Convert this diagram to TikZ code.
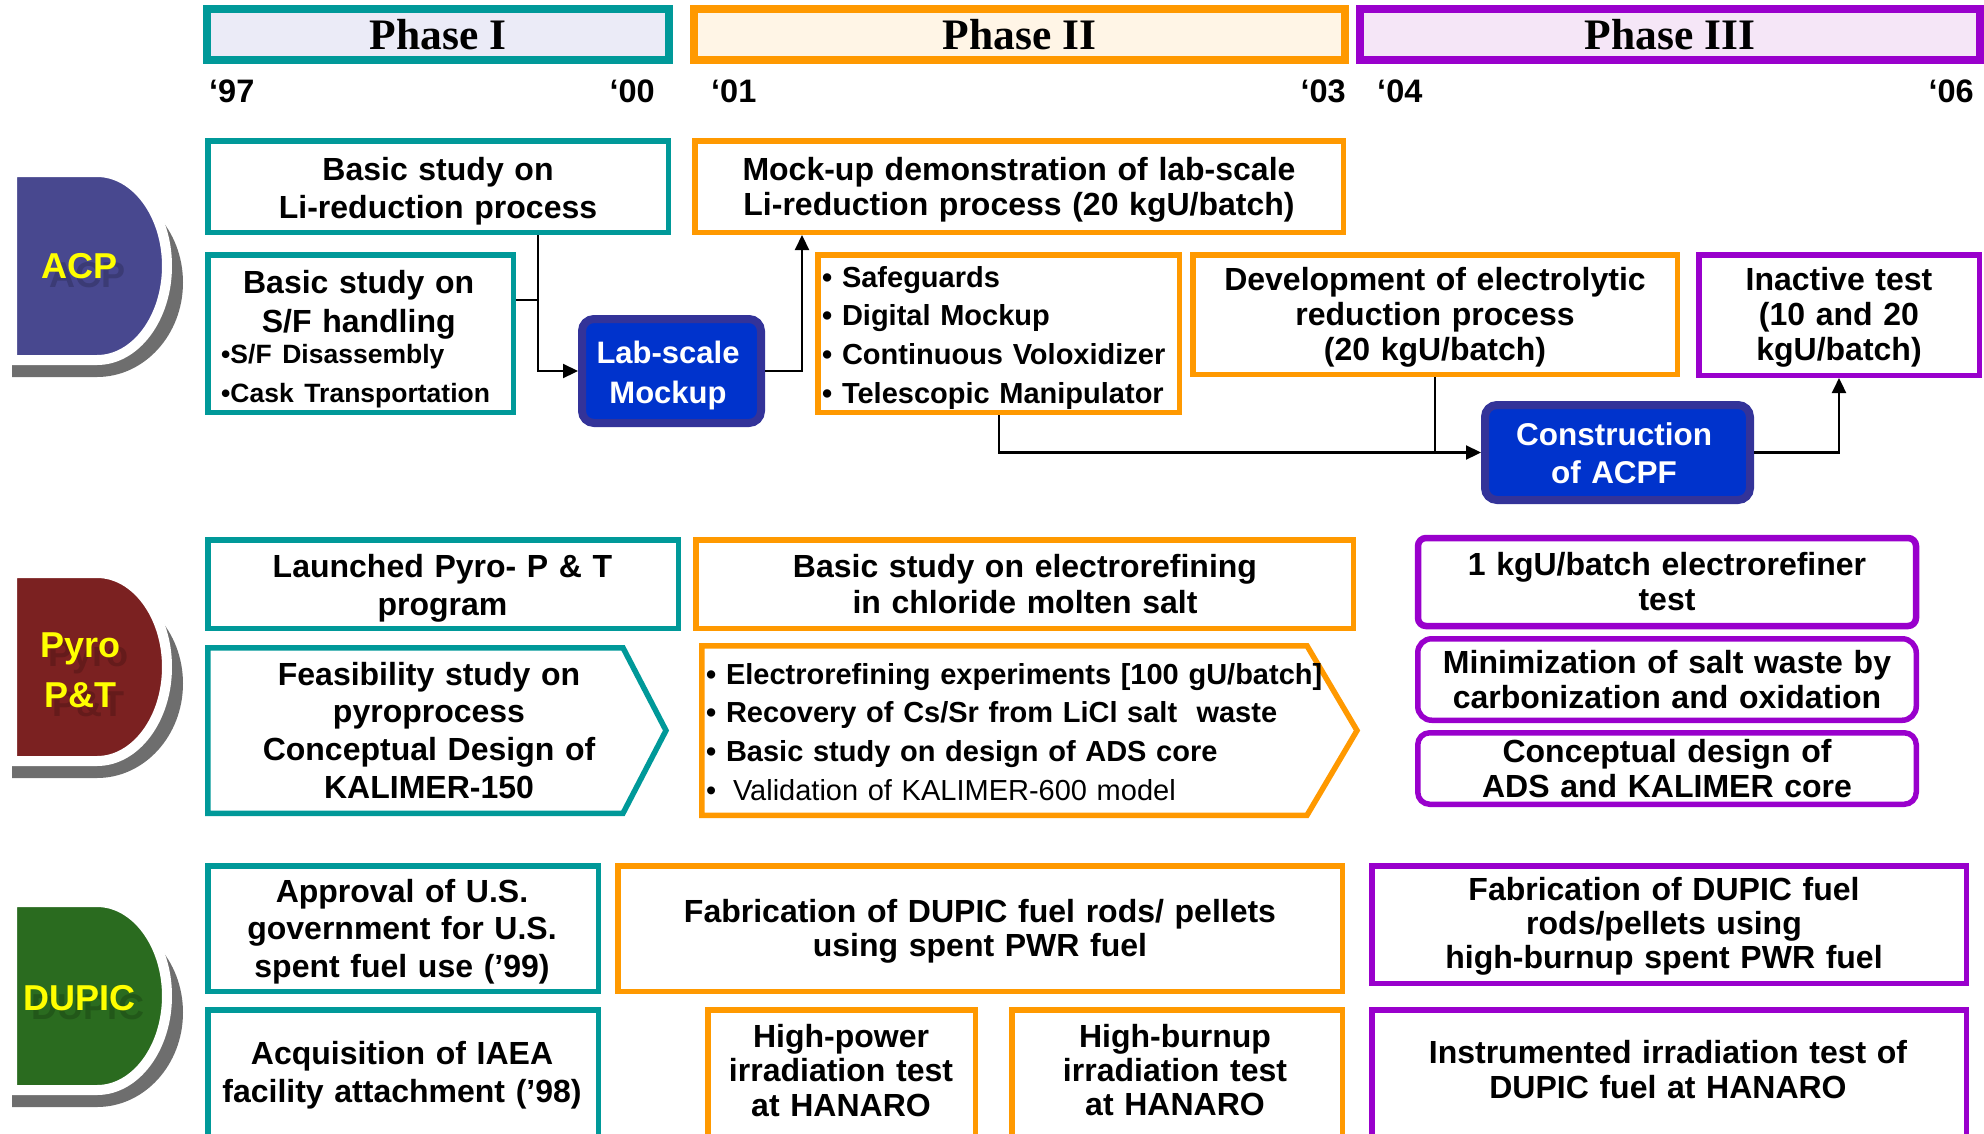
\documentclass[tikz,border=0pt]{standalone}
\usepackage{fontspec}
\setmainfont{Liberation Sans}
\newfontfamily\phasefont{Liberation Serif}
\usetikzlibrary{arrows.meta}
\newcommand\fsz[2]{\fontsize{#1pt}{#2pt}\selectfont}

\definecolor{tealc}{HTML}{009999}
\definecolor{orangec}{HTML}{FF9900}
\definecolor{purplec}{HTML}{9900CC}
\definecolor{phIfill}{HTML}{EBEBF7}
\definecolor{phIIfill}{HTML}{FFF5E6}
\definecolor{phIIIfill}{HTML}{F5E6F7}
\definecolor{acpfill}{HTML}{48488F}
\definecolor{pyrofill}{HTML}{7B2121}
\definecolor{dupicfill}{HTML}{2A6B1F}
\definecolor{shadowgray}{HTML}{6E6E6E}
\definecolor{bluefill}{HTML}{0033CC}
\definecolor{blueedge}{HTML}{333399}
\definecolor{yellowc}{HTML}{FFFF00}

% rounded program tab with its grey drop shadow; #1 = top edge, #2 = fill
\newcommand\programtab[2]{%
  \fill[shadowgray] (12,#1+16) -- (97,#1+16)
    arc[start angle=-90,end angle=90,x radius=86,y radius=94.5] -- (12,#1+205) -- cycle;
  \filldraw[fill=#2, draw=white, line width=10pt] (12,#1) -- (97,#1)
    arc[start angle=-90,end angle=90,x radius=70,y radius=94] -- (12,#1+188) -- cycle;
}

\begin{document}
\begin{tikzpicture}[x=1pt,y=-1pt,
  phasebox/.style={draw=#1, line width=8pt, inner sep=0pt},
  frame/.style={draw=#1, line width=5.5pt, fill=white, inner sep=0pt},
  roundframe/.style={frame=#1, rounded corners=9pt},
  bluebox/.style={draw=blueedge, fill=bluefill, line width=8pt, rounded corners=12pt, inner sep=0pt},
  lbl/.style={anchor=base, inner sep=0pt, align=center, text width=#1pt},
  bullets/.style={anchor=base west, inner sep=0pt, align=left, text width=#1pt},
  yearlbl/.style={inner sep=0pt, font=\bfseries\fsz{32.5}{38}},
  phaselbl/.style={anchor=base, inner sep=0pt, font=\phasefont\bfseries\fsz{43.5}{48}},
  tablbl/.style={lbl=150, font=\bfseries\fsz{36}{50}, text=yellowc},
  link/.style={draw=black, line width=2.2pt},
  linkarrow/.style={link, -{Triangle[length=15pt,width=14pt]}}
]
\useasboundingbox (0,0) rectangle (1984,1133);
\clip (0,0) rectangle (1984,1133);

% ---------------- phase headers ----------------
\node[phasebox=tealc, fill=phIfill, minimum width=462pt, minimum height=51pt] (ph1) at (438,34.5) {};
\node[phasebox=orangec, fill=phIIfill, minimum width=651pt, minimum height=51pt] (ph2) at (1019.5,34.5) {};
\node[phasebox=purplec, fill=phIIIfill, minimum width=620pt, minimum height=51pt] (ph3) at (1670,34.5) {};
\node[phaselbl] (ph1t) at (438,49) {Phase I};
\node[phaselbl] (ph2t) at (1019.5,49) {Phase II};
\node[phaselbl] (ph3t) at (1670,49) {Phase III};

\node[yearlbl, anchor=base west] (y97) at (209,102) {‘97};
\node[yearlbl, anchor=base east] (y00) at (655,102) {‘00};
\node[yearlbl, anchor=base west] (y01) at (711,102) {‘01};
\node[yearlbl, anchor=base east] (y03) at (1346,102) {‘03};
\node[yearlbl, anchor=base west] (y04) at (1377,102) {‘04};
\node[yearlbl, anchor=base east] (y06) at (1974,102) {‘06};

% ---------------- program tabs ----------------
\programtab{172}{acpfill}
\programtab{573}{pyrofill}
\programtab{902}{dupicfill}
\node[tablbl, text=acpfill!82!black] (acpS) at (88,287) {ACP};
\node[tablbl] (acpL) at (80,278) {ACP};
\node[tablbl, text=pyrofill!82!black] (pyroS) at (88.5,666) {Pyro\\P\&T};
\node[tablbl] (pyroL) at (80.5,657) {Pyro\\P\&T};
\node[tablbl, text=dupicfill!82!black] (dupicS) at (88,1019) {DUPIC};
\node[tablbl] (dupicL) at (80,1010) {DUPIC};

% ---------------- ACP row ----------------
\node[frame=tealc, minimum width=460.5pt, minimum height=91.5pt] (a1) at (438,186.5) {};
\node[frame=tealc, minimum width=305.5pt, minimum height=157.5pt] (a2) at (360.5,333.5) {};
\node[bluebox, minimum width=179pt, minimum height=104pt] (lab) at (671.5,371) {};
\node[frame=orangec, minimum width=648.5pt, minimum height=91.5pt] (demo) at (1019,186.5) {};
\node[frame=orangec, minimum width=361.5pt, minimum height=157.5pt] (safe) at (998.5,333.5) {};
\node[frame=orangec, minimum width=484.5pt, minimum height=119.5pt] (dev) at (1435,314.5) {};
\node[frame=purplec, minimum width=280.5pt, minimum height=120.5pt] (inact) at (1839,315) {};
\node[bluebox, minimum width=265pt, minimum height=95pt] (acpf) at (1617.5,452.5) {};

\node[lbl=450, font=\bfseries\fsz{32}{38}] (a1t) at (438,180) {Basic study on\\Li-reduction process};
\node[bullets=275, anchor=base west, font=\bfseries\fsz{32}{39}] (a2t) at (221,293)
  {{\centering Basic study on\\S/F handling\par}\fsz{26.5}{31}•S/F Disassembly\\•Cask Transportation};
\node[lbl=175, text=white, font=\bfseries\fsz{31}{40}] (labt) at (668,363) {Lab-scale\\Mockup};
\node[lbl=640, font=\bfseries\fsz{32}{35}] (demot) at (1019,180) {Mock-up demonstration of lab-scale\\Li-reduction process (20 kgU/batch)};
\node[bullets=355, font=\bfseries\fsz{29}{38.7}] (safet) at (822,287)
  {• Safeguards\\• Digital Mockup\\• Continuous Voloxidizer\\• Telescopic Manipulator};
\node[lbl=475, font=\bfseries\fsz{32}{35}] (devt) at (1435,290) {Development of electrolytic\\reduction process\\(20 kgU/batch)};
\node[lbl=270, font=\bfseries\fsz{32}{35}] (inactt) at (1839,290) {Inactive test\\(10 and 20\\kgU/batch)};
\node[lbl=260, text=white, font=\bfseries\fsz{31.5}{38}] (acpft) at (1614,445) {Construction\\of ACPF};

\coordinate (j1) at (538,300);
\coordinate (j2) at (802,0);
\coordinate (j3) at (999,0);
\draw[link] (a2.east |- j1) -- (j1);
\draw[linkarrow] (a1.south -| j1) |- (lab.west);
\draw[linkarrow] (lab.east) -| (demo.south -| j2);
\draw[linkarrow] (safe.south -| j3) |- (acpf.west);
\draw[link] (dev.south) -- (dev.south |- acpf.west);
\draw[linkarrow] (acpf.east) -| (inact.south);

% ---------------- Pyro P&T row ----------------
\node[frame=tealc, minimum width=470.5pt, minimum height=88.5pt] (p1) at (443,584) {};
\draw[tealc, line width=5.5pt, fill=white]
  (207.75,647.75) -- (623,647.75) -- (666,730.5) -- (623,813.25) -- (207.75,813.25) -- cycle;
\node[frame=orangec, minimum width=657.5pt, minimum height=88.5pt] (p2) at (1024.5,584) {};
\draw[orangec, line width=5.5pt, fill=white]
  (701.75,645.75) -- (1307,645.75) -- (1357,730.5) -- (1307,815.25) -- (701.75,815.25) -- cycle;
\node[roundframe=purplec, line width=6.5pt, rounded corners=8pt, minimum width=498pt, minimum height=88pt] (p3) at (1667,582) {};
\node[roundframe=purplec, rounded corners=14pt, minimum width=498.5pt, minimum height=81.5pt] (p4) at (1667,679.5) {};
\node[roundframe=purplec, rounded corners=12pt, minimum width=498.5pt, minimum height=71.5pt] (p5) at (1667,768.5) {};

\node[lbl=460, font=\bfseries\fsz{32}{38}] (p1t) at (442.5,577) {Launched Pyro- P \& T\\program};
\node[lbl=410, font=\bfseries\fsz{32}{37.7}] (feast) at (429,685)
  {Feasibility study on\\pyroprocess\\Conceptual Design of\\KALIMER-150};
\node[lbl=640, font=\bfseries\fsz{32}{36}] (p2t) at (1025,577) {Basic study on electrorefining\\in chloride molten salt};
\node[bullets=640, font=\bfseries\fsz{29}{38.7}] (bult) at (706,684)
  {• Electrorefining experiments [100 gU/batch]\\• Recovery of Cs/Sr from LiCl salt~ waste\\• Basic study on design of ADS core\\{\mdseries • \hspace{7pt}Validation of KALIMER-600 model}};
\node[lbl=490, font=\bfseries\fsz{32}{35}] (p3t) at (1667,575) {1 kgU/batch electrorefiner\\test};
\node[lbl=490, font=\bfseries\fsz{32}{35}] (p4t) at (1667,673) {Minimization of salt waste by\\carbonization and oxidation};
\node[lbl=490, font=\bfseries\fsz{32}{35}] (p5t) at (1667,762) {Conceptual design of\\ADS and KALIMER core};

% ---------------- DUPIC row ----------------
\node[frame=tealc, minimum width=390.5pt, minimum height=125.5pt] (d1) at (403,928.5) {};
\node[frame=tealc, minimum width=390.5pt, minimum height=137.5pt] (d2) at (403,1078.5) {};
\node[frame=orangec, minimum width=724.5pt, minimum height=125.5pt] (d3) at (980,928.5) {};
\node[frame=orangec, minimum width=267.5pt, minimum height=137.5pt] (d4) at (841.5,1078.5) {};
\node[frame=orangec, minimum width=330.5pt, minimum height=137.5pt] (d5) at (1177,1078.5) {};
\node[frame=purplec, minimum width=594.5pt, minimum height=117.5pt] (d6) at (1669,924.5) {};
\node[frame=purplec, minimum width=594.5pt, minimum height=137.5pt] (d7) at (1669,1078.5) {};

\node[lbl=385, font=\bfseries\fsz{32}{37.5}] (d1t) at (402,902) {Approval of U.S.\\government for U.S.\\spent fuel use (’99)};
\node[lbl=385, font=\bfseries\fsz{32}{38}] (d2t) at (402,1064) {Acquisition of IAEA\\facility attachment (’98)};
\node[lbl=715, font=\bfseries\fsz{32}{34}] (d3t) at (980,922) {Fabrication of DUPIC fuel rods/ pellets\\using spent PWR fuel};
\node[lbl=262, font=\bfseries\fsz{32}{34.5}] (d4t) at (841,1047) {High-power\\irradiation test\\at HANARO};
\node[lbl=320, font=\bfseries\fsz{32}{34}] (d5t) at (1175,1047) {High-burnup\\irradiation test\\at HANARO};
\node[lbl=585, font=\bfseries\fsz{32}{34}] (d6t) at (1664,900) {Fabrication of DUPIC fuel\\rods/pellets using\\high-burnup spent PWR fuel};
\node[lbl=585, font=\bfseries\fsz{32}{35}] (d7t) at (1668,1063) {Instrumented irradiation test of\\DUPIC fuel at HANARO};
\end{tikzpicture}
\end{document}
